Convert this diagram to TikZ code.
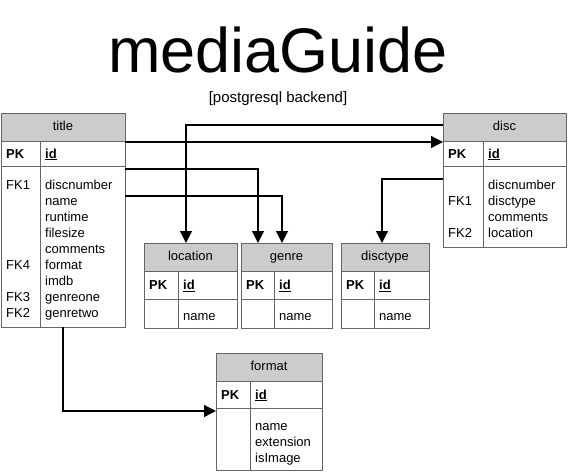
\documentclass[tikz,border=0pt]{standalone}
\usepackage{fontspec}
\setmainfont{Liberation Sans}
\usepackage{xcolor}
\usepackage{tikz}
\usetikzlibrary{arrows.meta,positioning,calc}

\definecolor{boxgray}{gray}{0.4}
\definecolor{headfill}{gray}{0.8}

\tikzset{
  cell/.style={draw=boxgray,line width=0.9pt,outer sep=0pt,inner sep=0pt,anchor=north west},
  headcell/.style={cell,fill=headfill,font=\fontsize{13}{16}\selectfont,text height=9.5pt,text depth=2.5pt},
  fld/.style={inner sep=0pt,anchor=base west,font=\fontsize{13}{16}\selectfont},
  link/.style={-{Triangle[length=12pt,width=12pt]},line width=1.3pt},
}

\begin{document}
\begin{tikzpicture}[x=1pt,y=-1pt]
    \useasboundingbox (0,0) rectangle (568,472);
    % heading
    \node[inner sep=0pt,anchor=base,font=\fontsize{63}{63}\selectfont] (head) at (278,72) {mediaGuide};
    \node[inner sep=0pt,anchor=base,font=\fontsize{15}{18}\selectfont] (sub) at (278,102) {[postgresql backend]};
    % tables: name/left/right/top/head bottom/pk bottom/bottom/divider
    \foreach \n/\l/\r/\tp/\h/\p/\b/\d in {title/1/125/113/141/166/327/40,
        disc/443/566/113/141/166/247/483,
        location/144/237/243/271/299/328/178,
        genre/241/332/243/271/299/328/274,
        disctype/341/429/243/271/299/328/374,
        format/216/322/353/381/408/470/250} {
      \node[headcell,minimum width=\r-\l,minimum height=\h-\tp] (\n) at (\l,\tp) {\n};
      \node[cell,minimum width=\r-\l,minimum height=\p-\h] (\n-pk) at (\l,\h) {};
      \node[cell,minimum width=\r-\l,minimum height=\b-\p] (\n-body) at (\l,\p) {};
      \draw[boxgray,line width=0.9pt] (\d,\h) -- (\d,\b);
      \node[fld,font=\fontsize{13}{16}\selectfont\bfseries] (\n-key) at (\l+5,{(\h+\p)/2+4.5}) {PK};
      \node[fld,font=\fontsize{13}{16}\selectfont\bfseries] (\n-id) at (\d+5,{(\h+\p)/2+4.5}) {\underline{id}};
    }
    % fields
    \foreach \f [count=\i] in {discnumber,name,runtime,filesize,comments,format,imdb,genreone,genretwo}
      \node[fld] (title-f\i) at (45,173.5+16*\i) {\f};
    \foreach \k/\i in {FK1/1,FK4/6,FK3/8,FK2/9}
      \node[fld] (title-\k) at (6,173.5+16*\i) {\k};
    \foreach \f [count=\i] in {discnumber,disctype,comments,location}
      \node[fld] (disc-f\i) at (488,173+16*\i) {\f};
    \foreach \k/\i in {FK1/2,FK2/4}
      \node[fld] (disc-\k) at (448,173+16*\i) {\k};
    \foreach \n/\d in {location/178,genre/274,disctype/374}
      \node[fld] (\n-f1) at (\d+5,320) {name};
    \foreach \f [count=\i] in {name,extension,isImage}
      \node[fld] (format-f\i) at (255,414+16*\i) {\f};
    % relations
    \draw[link] ([yshift=-1pt]title-pk.north east) -- ([yshift=-1pt]disc-pk.north west);
    \draw[link] ([yshift=2pt]disc.west) -| ([xshift=-4.5pt]location.north);
    \draw[link] ([yshift=-3pt]title-body.north east) -| ([xshift=-28.5pt]genre.north);
    \draw[link] ([yshift=-30pt]title-body.north east) -| ([xshift=-4.5pt]genre.north);
    \draw[link] ([yshift=-13pt]disc-body.north west) -| ([xshift=-3pt]disctype.north);
    \draw[link] (title-body.south) |- ([yshift=-3pt]format-body.north west);
\end{tikzpicture}
\end{document}
